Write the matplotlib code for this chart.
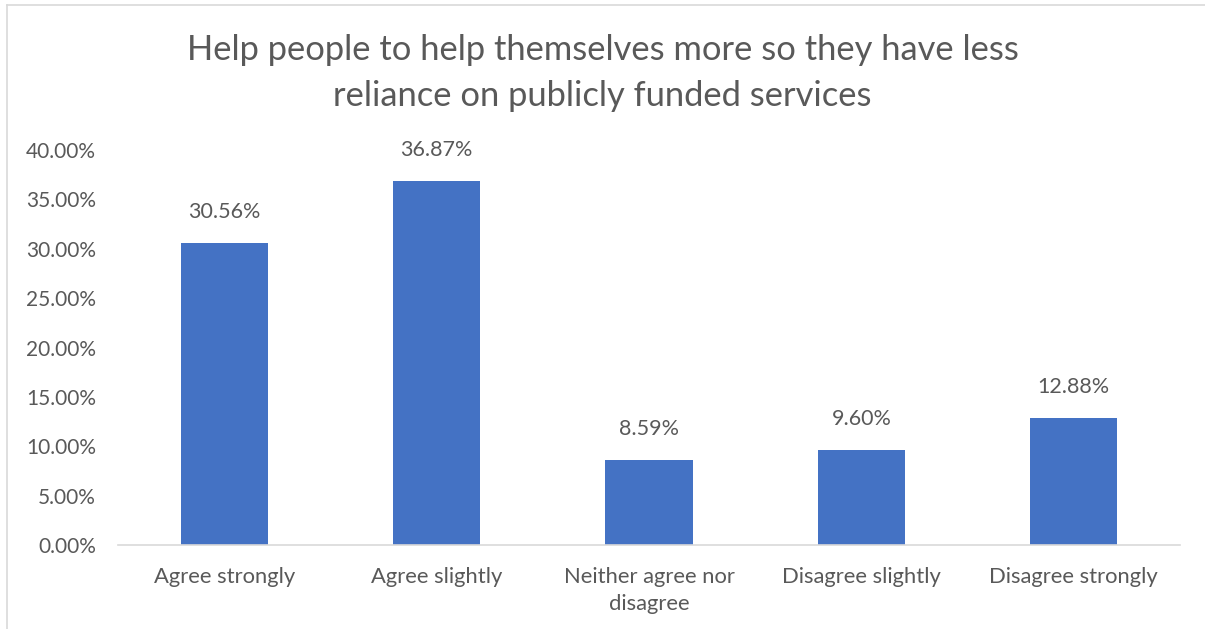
import matplotlib.pyplot as plt
from matplotlib.lines import Line2D

categories = ["Agree strongly", "Agree slightly", "Neither agree nor\ndisagree",
              "Disagree slightly", "Disagree strongly"]
values = [30.56, 36.87, 8.59, 9.60, 12.88]
yticks = [0, 5, 10, 15, 20, 25, 30, 35, 40]
title = "Help people to help themselves more so they have less\nreliance on publicly funded services"

plt.rcParams['font.family'] = ['Lato', 'DejaVu Sans']
text_color = "#595959"

fig = plt.figure(figsize=(12.05, 6.29), dpi=100)
ax = fig.add_axes([118 / 1205, 1 - 545 / 629, (1180 - 118) / 1205, (545 - 150) / 629])

x = range(len(categories))
ax.bar(x, values, width=0.41, color="#4472C4", zorder=2)

for xi, v in zip(x, values):
    ax.annotate(f"{v:.2f}%", (xi, v), xytext=(0, 15), textcoords="offset points",
                ha="center", va="bottom", fontsize=15.5, color=text_color)

ax.set_xlim(-0.5, len(categories) - 0.5)
ax.set_ylim(0, 40)
ax.set_yticks(yticks)
ax.set_yticklabels([f"{t:.2f}%" for t in yticks], fontsize=15.0, color=text_color)
ax.set_xticks(list(x))
ax.set_xticklabels(categories, fontsize=15.8, color=text_color, linespacing=1.45)
ax.tick_params(axis="both", length=0)
ax.tick_params(axis="x", pad=16)
ax.tick_params(axis="y", pad=16)

for side in ["top", "right", "left"]:
    ax.spines[side].set_visible(False)
ax.spines["bottom"].set_color("#D9D9D9")
ax.spines["bottom"].set_linewidth(1.2)

fig.text(0.5, 1 - 73 / 629, title, ha="center", va="center", fontsize=24.8,
         color=text_color, linespacing=1.5)

# chart frame
fig.add_artist(Line2D([7 / 1205, 1.0], [1 - 5 / 629] * 2, transform=fig.transFigure,
                      color="#D9D9D9", lw=1.2))
fig.add_artist(Line2D([7 / 1205] * 2, [0, 1 - 5 / 629], transform=fig.transFigure,
                      color="#D9D9D9", lw=1.2))

fig.savefig("out.png", dpi=100)
